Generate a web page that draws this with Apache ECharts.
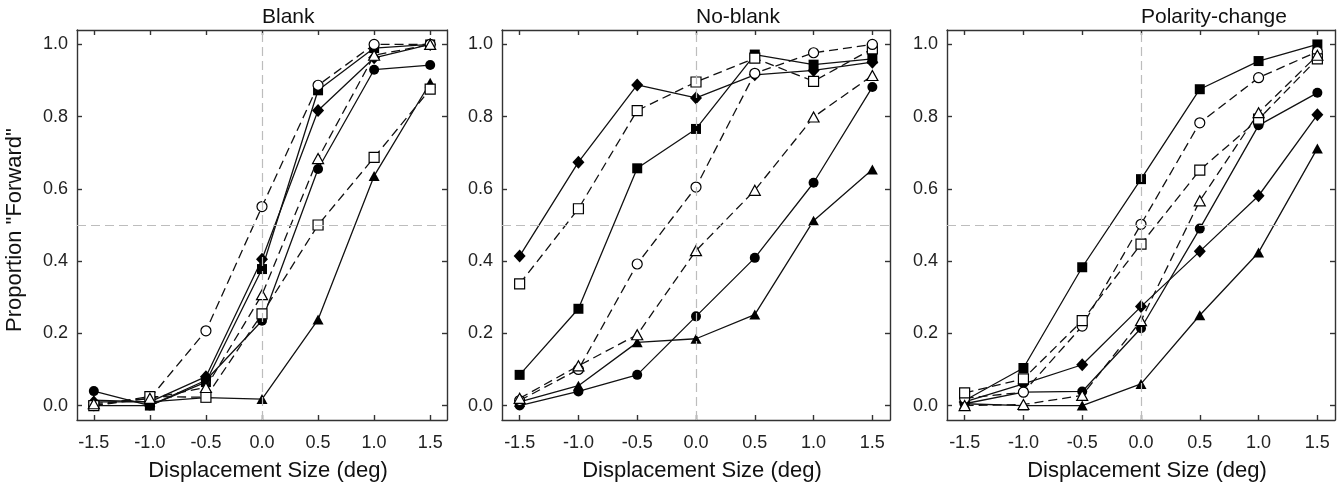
<!DOCTYPE html>
<html>
<head>
<meta charset="utf-8">
<script src="https://cdn.jsdelivr.net/npm/echarts@6/dist/echarts.min.js"></script>
<style>html,body{margin:0;padding:0;background:#fff}#c{width:1342px;height:491px}</style>
</head>
<body>
<div id="c"></div>
<script>
// ---- data ----
const xs = [-1.5, -1.0, -0.5, 0.0, 0.5, 1.0, 1.5];
const xTicks = [-1.5, -1.0, -0.5, 0.0, 0.5, 1.0, 1.5];
const yTicks = [0.0, 0.2, 0.4, 0.6, 0.8, 1.0];
const panelTitles = ['Blank', 'No-blank', 'Polarity-change'];
const xAxisName = 'Displacement Size (deg)';
const yAxisName = 'Proportion "Forward"';

// Blank
const blankFilledCircle   = [0.040, 0.000, 0.070, 0.235, 0.655, 0.930, 0.943];
const blankFilledSquare   = [0.000, 0.000, 0.065, 0.378, 0.873, 0.990, 1.000];
const blankFilledDiamond  = [0.010, 0.010, 0.080, 0.405, 0.817, 0.963, 1.000];
const blankFilledTriangle = [0.015, 0.010, 0.022, 0.018, 0.238, 0.636, 0.894];
const blankOpenCircle     = [0.000, 0.020, 0.207, 0.551, 0.887, 1.000, 1.000];
const blankOpenSquare     = [0.000, 0.025, 0.023, 0.254, 0.500, 0.687, 0.876];
const blankOpenTriangle   = [0.005, 0.020, 0.050, 0.307, 0.684, 0.970, 1.000];

// No-blank
const nbFilledDiamond  = [0.414, 0.674, 0.888, 0.852, 0.916, 0.928, 0.951];
const nbOpenSquare     = [0.337, 0.545, 0.817, 0.896, 0.962, 0.898, 0.988];
const nbFilledSquare   = [0.085, 0.268, 0.657, 0.766, 0.972, 0.944, 0.960];
const nbOpenCircle     = [0.014, 0.100, 0.392, 0.605, 0.920, 0.977, 1.000];
const nbOpenTriangle   = [0.020, 0.110, 0.196, 0.429, 0.596, 0.799, 0.914];
const nbFilledCircle   = [0.000, 0.039, 0.085, 0.247, 0.409, 0.617, 0.882];
const nbFilledTriangle = [0.010, 0.055, 0.175, 0.185, 0.252, 0.512, 0.654];

// Polarity-change
const pcFilledSquare   = [0.014, 0.104, 0.383, 0.627, 0.876, 0.954, 1.000];
const pcOpenCircle     = [0.020, 0.037, 0.220, 0.502, 0.783, 0.908, 0.980];
const pcOpenSquare     = [0.035, 0.074, 0.235, 0.447, 0.652, 0.793, 0.960];
const pcOpenTriangle   = [0.000, 0.003, 0.028, 0.235, 0.567, 0.811, 0.970];
const pcFilledCircle   = [0.005, 0.037, 0.039, 0.214, 0.490, 0.776, 0.866];
const pcFilledDiamond  = [0.010, 0.060, 0.113, 0.274, 0.427, 0.581, 0.805];
const pcFilledTriangle = [0.005, 0.000, 0.000, 0.060, 0.250, 0.424, 0.712];

const panels = [
  [
    [blankOpenCircle, 'circle', false], [blankOpenSquare, 'rect', false], [blankOpenTriangle, 'triangle', false],
    [blankFilledCircle, 'circle', true], [blankFilledSquare, 'rect', true], [blankFilledDiamond, 'diamond', true], [blankFilledTriangle, 'triangle', true]
  ],
  [
    [nbOpenSquare, 'rect', false], [nbOpenCircle, 'circle', false], [nbOpenTriangle, 'triangle', false],
    [nbFilledDiamond, 'diamond', true], [nbFilledSquare, 'rect', true], [nbFilledCircle, 'circle', true], [nbFilledTriangle, 'triangle', true]
  ],
  [
    [pcOpenCircle, 'circle', false], [pcOpenSquare, 'rect', false], [pcOpenTriangle, 'triangle', false],
    [pcFilledSquare, 'rect', true], [pcFilledCircle, 'circle', true], [pcFilledDiamond, 'diamond', true], [pcFilledTriangle, 'triangle', true]
  ]
];

// ---- layout ----
const grids = [
  {left: 77, top: 30, width: 370, height: 390},
  {left: 502, top: 30, width: 388, height: 390},
  {left: 947, top: 30, width: 388, height: 390}
];
const FONT = '"Liberation Sans", Arial, Helvetica, sans-serif';
const AX = '#333';

const xAxes = [], yAxes = [], series = [], graphics = [];
const fmt = v => Number(v).toFixed(1);
const symSize = {circle: 10, rect: 10, diamond: [12, 13], triangle: [11, 10]};

grids.forEach((g, i) => {
  const lineStyle = {color: AX, width: 1.4};
  xAxes.push({
    type: 'value', gridIndex: i, position: 'bottom', min: -1.65, max: 1.65,
    axisLine: {show: true, onZero: false, lineStyle},
    axisTick: {show: true, inside: true, length: 5, customValues: xTicks, lineStyle},
    axisLabel: {show: true, customValues: xTicks, formatter: fmt, fontSize: 18, color: '#222', margin: 14, fontFamily: FONT},
    splitLine: {show: false},
    name: xAxisName, nameLocation: 'middle', nameGap: 40,
    nameTextStyle: {fontSize: 22, color: '#111', fontFamily: FONT, padding: [0, 0, 0, 12]}
  });
  xAxes.push({
    type: 'value', gridIndex: i, position: 'top', min: -1.65, max: 1.65,
    axisLine: {show: true, onZero: false, lineStyle},
    axisTick: {show: true, inside: true, length: 5, customValues: xTicks, lineStyle},
    axisLabel: {show: false}, splitLine: {show: false}
  });
  yAxes.push({
    type: 'value', gridIndex: i, position: 'left', min: -0.04, max: 1.04,
    axisLine: {show: true, onZero: false, lineStyle},
    axisTick: {show: true, inside: true, length: 5, customValues: yTicks, lineStyle},
    axisLabel: {show: true, customValues: yTicks, formatter: fmt, fontSize: 18, color: '#222', margin: 9, fontFamily: FONT},
    splitLine: {show: false}
  });
  yAxes.push({
    type: 'value', gridIndex: i, position: 'right', min: -0.04, max: 1.04,
    axisLine: {show: true, onZero: false, lineStyle},
    axisTick: {show: true, inside: true, length: 5, customValues: yTicks, lineStyle},
    axisLabel: {show: false}, splitLine: {show: false}
  });

  series.push({
    type: 'line', xAxisIndex: i * 2, yAxisIndex: i * 2, data: [], silent: true,
    markLine: {
      silent: true, symbol: 'none', label: {show: false}, animation: false,
      lineStyle: {color: '#bdbdbd', type: [9, 5], width: 1.2},
      data: [{xAxis: 0}, {yAxis: 0.5}]
    }
  });

  panels[i].forEach(([vals, shape, filled]) => {
    series.push({
      type: 'line', xAxisIndex: i * 2, yAxisIndex: i * 2,
      data: xs.map((x, k) => [x, vals[k]]),
      symbol: shape, symbolSize: symSize[shape], showSymbol: true,
      lineStyle: {color: '#111', width: 1.3, type: filled ? 'solid' : [9, 5]},
      itemStyle: {color: filled ? '#000' : '#fff', borderColor: '#000', borderWidth: filled ? 0 : 1.2},
      z: filled ? 3 : 4,
      animation: false
    });
  });

  graphics.push({
    type: 'text', left: g.left + g.width / 2, top: 7,
    style: {text: panelTitles[i], font: '21px ' + FONT, fill: '#111', textAlign: 'center'}
  });
});

graphics.push({
  type: 'text', rotation: Math.PI / 2, x: 4, y: 332,
  style: {text: yAxisName, font: '22px ' + FONT, fill: '#111', textAlign: 'left', textVerticalAlign: 'top'}
});

const chart = echarts.init(document.getElementById('c'), null, {renderer: 'canvas'});
chart.setOption({
  animation: false,
  backgroundColor: '#fff',
  grid: grids.map(g => Object.assign({containLabel: false}, g)),
  xAxis: xAxes,
  yAxis: yAxes,
  series: series,
  graphic: graphics
});
</script>
</body>
</html>
